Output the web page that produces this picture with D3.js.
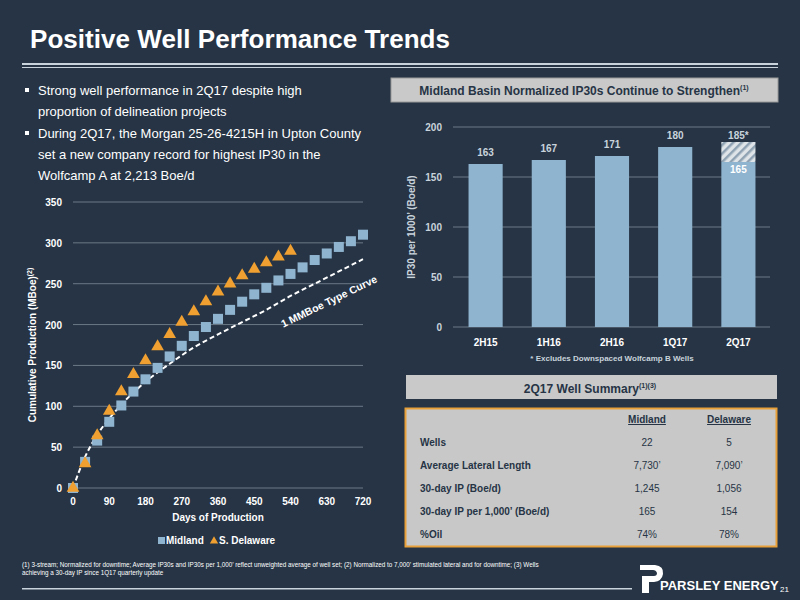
<!DOCTYPE html>
<html><head><meta charset="utf-8">
<script src="https://cdn.jsdelivr.net/npm/d3@7"></script>
<style>body{margin:0;background:#263445;}svg{display:block;font-family:"Liberation Sans",Arial,sans-serif;}</style>
</head><body><svg id="c" width="800" height="600"></svg>
<script>
const days = [0,30,60,90,120,150,180,210,240,270,300,330,360,390,420,450,480,510,540,570,600,630,660,690,720];
const midland = [0,32,58,81,101,118,133,147,161,174,186,197,207,218,228,237,245,254,262,270,279,287,295,302,310];
const delaware = [0,30,64,94,118,139,156,173,188,203,216,228,240,250,260,268,276,283,290];
const curveDays = [0,30,60,90,120,180,240,300,360,420,480,540,600,660,720];
const curveVals = [0,38,65,85,102,130,152,172,188,203,218,235,250,265,280];
const xTicks = [0,90,180,270,360,450,540,630,720];
const yTicks = [0,50,100,150,200,250,300,350];
const periods = ["2H15","1H16","2H16","1Q17","2Q17"];
const ip30 = [163,167,171,180,165];
const ip30Excl = [null,null,null,null,185];
const barTicks = [0,50,100,150,200];
const tableCols = ["Midland","Delaware"];
const tableRows = ["Wells","Average Lateral Length","30-day IP (Boe/d)","30-day IP per 1,000’ (Boe/d)","%Oil"];
const tableMid = ["22","7,730’","1,245","165","74%"];
const tableDel = ["5","7,090’","1,056","154","78%"];

const svg = d3.select("#c");
const W="#ffffff", BG="#263445", GRID="#6b7886", BAR="#8fb4cf", LBL="#c9d3dc";
svg.append("rect").attr("width",800).attr("height",600).attr("fill",BG);
svg.append("text").attr("x",30).attr("y",48).attr("fill",W).attr("font-size",26).attr("font-weight","bold").attr("textLength",420).text("Positive Well Performance Trends");
svg.append("rect").attr("x",22).attr("y",63).attr("width",756).attr("height",2).attr("fill","#c9d3dc");
svg.append("rect").attr("x",22).attr("y",67).attr("width",756).attr("height",1).attr("fill","#c9d3dc");

const bl = [["Strong well performance in 2Q17 despite high","proportion of delineation projects"],["During 2Q17, the Morgan 25-26-4215H in Upton County","set a new company record for highest IP30 in the","Wolfcamp A at 2,213 Boe/d"]];
let by=[95,138];
bl.forEach((b,i)=>{svg.append("rect").attr("x",25).attr("y",by[i]-7).attr("width",4).attr("height",4).attr("fill",W);
 b.forEach((l,j)=>svg.append("text").attr("x",38).attr("y",by[i]+j*21).attr("fill",W).attr("font-size",13).text(l));});

const x = d3.scaleLinear().domain([0,720]).range([73,363]);
const y = d3.scaleLinear().domain([0,350]).range([488,202]);
const g = svg.append("g");
g.selectAll(".gl").data(yTicks).join("line").attr("x1",73).attr("x2",363).attr("y1",d=>y(d)).attr("y2",d=>y(d)).attr("stroke",GRID);
g.selectAll(".yl").data(yTicks).join("text").attr("x",62).attr("y",d=>y(d)+4).attr("text-anchor","end").attr("fill",W).attr("font-size",10).attr("font-weight","bold").text(d=>d);
g.selectAll(".xl").data(xTicks).join("text").attr("x",d=>x(d)).attr("y",505).attr("text-anchor","middle").attr("fill",W).attr("font-size",10).attr("font-weight","bold").text(d=>d);
g.append("text").attr("x",218).attr("y",521).attr("text-anchor","middle").attr("fill",W).attr("font-size",10).attr("font-weight","bold").text("Days of Production");
g.append("text").attr("transform","translate(36,345) rotate(-90)").attr("text-anchor","middle").attr("fill",W).attr("font-size",10).attr("font-weight","bold").html('Cumulative Production (MBoe)<tspan dy="-4" font-size="7">(2)</tspan>');
g.append("path").datum(curveDays.map((d,i)=>[d,curveVals[i]])).attr("d",d3.line().x(d=>x(d[0])).y(d=>y(d[1])).curve(d3.curveMonotoneX)).attr("fill","none").attr("stroke",W).attr("stroke-width",2).attr("stroke-dasharray","5,3");
g.append("text").attr("transform",`translate(${x(522)},${y(196)}) rotate(-26)`).attr("fill",W).attr("font-size",10.5).attr("font-weight","bold").text("1 MMBoe Type Curve");
g.selectAll(".m").data(midland).join("rect").attr("x",(d,i)=>x(days[i])-5).attr("y",d=>y(d)-5).attr("width",10).attr("height",10).attr("fill",BAR);
const tri=d3.symbol().type(d3.symbolTriangle).size(70);
g.selectAll(".d").data(delaware).join("path").attr("d",tri).attr("transform",(d,i)=>`translate(${x(days[i])},${y(d)})`).attr("fill","#f0a030");
g.append("rect").attr("x",158).attr("y",537).attr("width",7).attr("height",7).attr("fill",BAR);
g.append("text").attr("x",166).attr("y",544).attr("fill",W).attr("font-size",10).attr("font-weight","bold").text("Midland");
g.append("path").attr("d",d3.symbol().type(d3.symbolTriangle).size(30)).attr("transform","translate(214,541)").attr("fill","#f0a030");
g.append("text").attr("x",219).attr("y",544).attr("fill",W).attr("font-size",10).attr("font-weight","bold").text("S. Delaware");

svg.append("rect").attr("x",391).attr("y",78).attr("width",387).attr("height",24).attr("fill","#c9c9c9").attr("stroke","#999");
svg.append("text").attr("x",584).attr("y",95).attr("text-anchor","middle").attr("fill","#263445").attr("font-size",12).attr("font-weight","bold").html('Midland Basin Normalized IP30s Continue to Strengthen<tspan dy="-5" font-size="7">(1)</tspan>');
const bx = d3.scaleBand().domain(periods).range([454,770]).paddingInner(0.46).paddingOuter(0.23);
const byS = d3.scaleLinear().domain([0,200]).range([327,127]);
const rg = svg.append("g");
rg.selectAll("line").data(barTicks).join("line").attr("x1",453).attr("x2",770).attr("y1",d=>byS(d)).attr("y2",d=>byS(d)).attr("stroke",GRID);
rg.selectAll(".yt").data(barTicks).join("text").attr("x",442).attr("y",d=>byS(d)+4).attr("text-anchor","end").attr("fill",LBL).attr("font-size",10).attr("font-weight","bold").text(d=>d);
const defs=svg.append("defs");
const pat=defs.append("pattern").attr("id","h").attr("width",6).attr("height",6).attr("patternUnits","userSpaceOnUse").attr("patternTransform","rotate(45)");
pat.append("rect").attr("width",6).attr("height",6).attr("fill","#dfe4e8");
pat.append("rect").attr("width",2.5).attr("height",6).attr("fill","#8fa2b3");
rg.selectAll(".ex").data(periods.filter((p,i)=>ip30Excl[i]!=null)).join("rect").attr("x",d=>bx(d)).attr("width",bx.bandwidth()).attr("y",d=>byS(ip30Excl[periods.indexOf(d)])).attr("height",d=>byS(ip30[periods.indexOf(d)])-byS(ip30Excl[periods.indexOf(d)])).attr("fill","url(#h)");
rg.selectAll(".b").data(periods).join("rect").attr("x",d=>bx(d)).attr("width",bx.bandwidth()).attr("y",(d,i)=>byS(ip30[i])).attr("height",(d,i)=>327-byS(ip30[i])).attr("fill",BAR);
rg.selectAll(".v").data(periods).join("text").attr("x",d=>bx(d)+bx.bandwidth()/2).attr("text-anchor","middle").attr("font-size",10).attr("font-weight","bold")
  .attr("y",(d,i)=>ip30Excl[i]!=null?byS(ip30[i])+11:byS(ip30[i])-8).attr("fill",(d,i)=>ip30Excl[i]!=null?W:LBL).text((d,i)=>ip30[i]);
rg.selectAll(".ve").data(periods.filter((p,i)=>ip30Excl[i]!=null)).join("text").attr("x",d=>bx(d)+bx.bandwidth()/2).attr("y",d=>byS(ip30Excl[periods.indexOf(d)])-3).attr("text-anchor","middle").attr("fill",LBL).attr("font-size",10).attr("font-weight","bold").text(d=>ip30Excl[periods.indexOf(d)]+"*");
rg.selectAll(".xt").data(periods).join("text").attr("x",d=>bx(d)+bx.bandwidth()/2).attr("y",346).attr("text-anchor","middle").attr("fill",W).attr("font-size",10).attr("font-weight","bold").text(d=>d);
rg.append("text").attr("transform","translate(415,227) rotate(-90)").attr("text-anchor","middle").attr("fill",LBL).attr("font-size",10).attr("font-weight","bold").text("IP30 per 1000’ (Boe/d)");
rg.append("text").attr("x",612).attr("y",361).attr("text-anchor","middle").attr("fill",LBL).attr("font-size",8).attr("font-weight","bold").text("* Excludes Downspaced Wolfcamp B Wells");

svg.append("rect").attr("x",406).attr("y",375).attr("width",371).attr("height",24).attr("fill","#c9c9c9");
svg.append("text").attr("x",590).attr("y",393).attr("text-anchor","middle").attr("fill","#263445").attr("font-size",12).attr("font-weight","bold").html('2Q17 Well Summary<tspan dy="-5" font-size="7">(1)(3)</tspan>');
svg.append("rect").attr("x",405.5).attr("y",408.5).attr("width",371).attr("height",138).attr("fill","#c8c8c8").attr("stroke","#e8a13a").attr("stroke-width",2);
const cx=[647,729];
tableCols.forEach((c,i)=>svg.append("text").attr("x",cx[i]).attr("y",423).attr("text-anchor","middle").attr("fill","#263445").attr("font-size",10).attr("font-weight","bold").attr("text-decoration","underline").text(c));
tableRows.forEach((r,i)=>{const yy=446+i*23;
 svg.append("text").attr("x",420).attr("y",yy).attr("fill","#263445").attr("font-size",10).attr("font-weight","bold").text(r);
 svg.append("text").attr("x",cx[0]).attr("y",yy).attr("text-anchor","middle").attr("fill","#263445").attr("font-size",10).text(tableMid[i]);
 svg.append("text").attr("x",cx[1]).attr("y",yy).attr("text-anchor","middle").attr("fill","#263445").attr("font-size",10).text(tableDel[i]);});

svg.append("text").attr("x",22).attr("y",567).attr("fill",W).attr("font-size",6.3).text("(1) 3-stream; Normalized for downtime; Average IP30s and IP30s per 1,000’ reflect unweighted average of well set; (2) Normalized to 7,000’ stimulated lateral and for downtime; (3) Wells");
svg.append("text").attr("x",22).attr("y",575).attr("fill",W).attr("font-size",6.3).text("achieving a 30-day IP since 1Q17 quarterly update");
svg.append("rect").attr("x",22).attr("y",588).attr("width",610).attr("height",1.5).attr("fill","#c9d3dc");
svg.append("path").attr("d","M640 565 H655 Q664 566 663 574 Q662 581 654 582 H649 V593 H642 V576 H654 Q657 576 657 573 Q656 570 653 570 H640 Z").attr("fill",W);
svg.append("text").attr("x",660).attr("y",590).attr("fill",W).attr("font-size",13).attr("font-weight","bold").text("PARSLEY ENERGY");
svg.append("text").attr("x",780).attr("y",592).attr("fill",W).attr("font-size",8).text("21");
</script></body></html>
